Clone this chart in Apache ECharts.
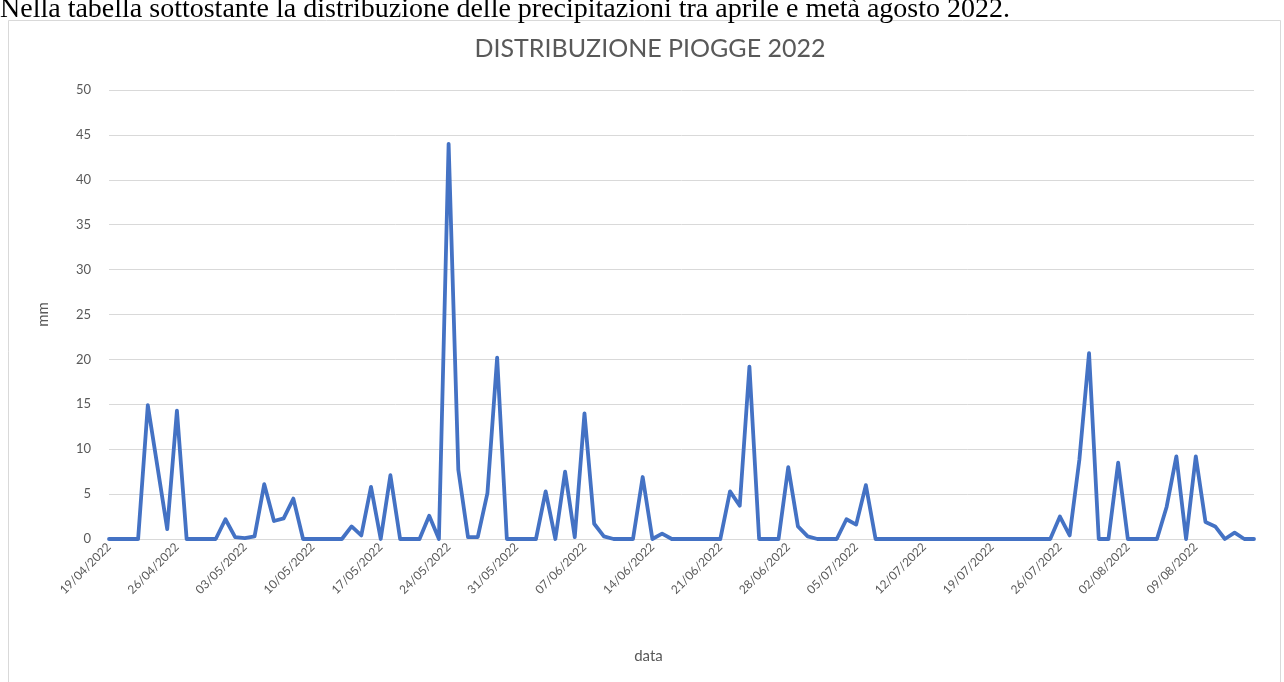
<!DOCTYPE html>
<html>
<head>
<meta charset="utf-8">
<title>Distribuzione piogge 2022</title>
<script src="https://cdn.jsdelivr.net/npm/echarts@6/dist/echarts.min.js"></script>
<style>
  html, body { margin: 0; padding: 0; background: #ffffff; }
  #chart { width: 1284px; height: 682px; }
</style>
</head>
<body>
<div id="chart"></div>
<script>
// Daily rainfall (mm), 19 April – 15 August 2022
const dates = [
  '19/04/2022','20/04/2022','21/04/2022','22/04/2022','23/04/2022','24/04/2022','25/04/2022',
  '26/04/2022','27/04/2022','28/04/2022','29/04/2022','30/04/2022','01/05/2022','02/05/2022',
  '03/05/2022','04/05/2022','05/05/2022','06/05/2022','07/05/2022','08/05/2022','09/05/2022',
  '10/05/2022','11/05/2022','12/05/2022','13/05/2022','14/05/2022','15/05/2022','16/05/2022',
  '17/05/2022','18/05/2022','19/05/2022','20/05/2022','21/05/2022','22/05/2022','23/05/2022',
  '24/05/2022','25/05/2022','26/05/2022','27/05/2022','28/05/2022','29/05/2022','30/05/2022',
  '31/05/2022','01/06/2022','02/06/2022','03/06/2022','04/06/2022','05/06/2022','06/06/2022',
  '07/06/2022','08/06/2022','09/06/2022','10/06/2022','11/06/2022','12/06/2022','13/06/2022',
  '14/06/2022','15/06/2022','16/06/2022','17/06/2022','18/06/2022','19/06/2022','20/06/2022',
  '21/06/2022','22/06/2022','23/06/2022','24/06/2022','25/06/2022','26/06/2022','27/06/2022',
  '28/06/2022','29/06/2022','30/06/2022','01/07/2022','02/07/2022','03/07/2022','04/07/2022',
  '05/07/2022','06/07/2022','07/07/2022','08/07/2022','09/07/2022','10/07/2022','11/07/2022',
  '12/07/2022','13/07/2022','14/07/2022','15/07/2022','16/07/2022','17/07/2022','18/07/2022',
  '19/07/2022','20/07/2022','21/07/2022','22/07/2022','23/07/2022','24/07/2022','25/07/2022',
  '26/07/2022','27/07/2022','28/07/2022','29/07/2022','30/07/2022','31/07/2022','01/08/2022',
  '02/08/2022','03/08/2022','04/08/2022','05/08/2022','06/08/2022','07/08/2022','08/08/2022',
  '09/08/2022','10/08/2022','11/08/2022','12/08/2022','13/08/2022','14/08/2022','15/08/2022'
];

// one value per day, a week per row
const rainMm = [
  0, 0, 0, 0, 14.9, 8.0, 1.1,
  14.3, 0, 0, 0, 0, 2.2, 0.2,
  0.1, 0.3, 6.1, 2.0, 2.3, 4.5, 0,
  0, 0, 0, 0, 1.4, 0.4, 5.8,
  0, 7.1, 0, 0, 0, 2.6, 0,
  44.0, 7.7, 0.2, 0.2, 5.1, 20.2, 0,
  0, 0, 0, 5.3, 0, 7.5, 0.2,
  14.0, 1.7, 0.3, 0, 0, 0, 6.9,
  0, 0.6, 0, 0, 0, 0, 0,
  0, 5.3, 3.7, 19.2, 0, 0, 0,
  8.0, 1.4, 0.3, 0, 0, 0, 2.2,
  1.6, 6.0, 0, 0, 0, 0, 0,
  0, 0, 0, 0, 0, 0, 0,
  0, 0, 0, 0, 0, 0, 0,
  2.5, 0.4, 8.8, 20.7, 0, 0, 8.5,
  0, 0, 0, 0, 3.6, 9.2, 0,
  9.2, 1.9, 1.4, 0, 0.7, 0, 0
];

const yMin = 0;
const yMax = 50;
const yStep = 5;

const chartTitle = 'DISTRIBUZIONE PIOGGE 2022';
const introLine = 'Nella tabella sottostante la distribuzione delle precipitazioni tra aprile e metà agosto 2022.';
const xName = 'data';
const yName = 'mm';

const grey = '#595959';
const gridGrey = '#d9d9d9';
const lineBlue = '#4472C4';
const uiFont = 'Lato, "Open Sans", sans-serif';

const chart = echarts.init(document.getElementById('chart'), null, { renderer: 'canvas' });

chart.setOption({
  animation: false,
  backgroundColor: '#ffffff',
  graphic: [
    {
      // chart frame
      type: 'rect',
      z: -10,
      silent: true,
      shape: { x: 8.5, y: 20.5, width: 1272, height: 700 },
      style: { fill: '#ffffff', stroke: gridGrey, lineWidth: 1 }
    },
    {
      // sentence above the chart, partly cut by the top edge of the page
      type: 'text',
      silent: true,
      style: {
        x: 0,
        y: -4,
        text: introLine,
        fill: '#000000',
        font: '28px "Liberation Serif", "Times New Roman", serif',
        textAlign: 'left'
      }
    }
  ],
  title: {
    text: chartTitle,
    left: 645,
    top: 31,
    textAlign: 'center',
    textStyle: {
      color: grey,
      fontSize: 25,
      fontWeight: 'normal',
      fontFamily: uiFont
    }
  },
  grid: {
    left: 109,
    right: 30,
    top: 90,
    bottom: 143,
    containLabel: false
  },
  xAxis: {
    type: 'category',
    data: dates,
    boundaryGap: false,
    name: xName,
    nameLocation: 'middle',
    nameGap: 110,
    nameTextStyle: {
      color: grey,
      fontSize: 15,
      fontFamily: uiFont,
      padding: [0, 66, 0, 0]
    },
    axisLine: { show: true, lineStyle: { color: gridGrey, width: 1 } },
    axisTick: { show: false },
    axisLabel: {
      interval: 6,
      rotate: 45,
      margin: 6,
      color: grey,
      fontSize: 12,
      fontFamily: uiFont
    },
    splitLine: { show: false }
  },
  yAxis: {
    type: 'value',
    min: yMin,
    max: yMax,
    interval: yStep,
    name: yName,
    nameLocation: 'middle',
    nameGap: 58,
    nameRotate: 90,
    nameTextStyle: { color: grey, fontSize: 15, fontFamily: uiFont },
    axisLine: { show: false },
    axisTick: { show: false },
    axisLabel: { color: grey, fontSize: 13, margin: 18, fontFamily: uiFont },
    splitLine: { lineStyle: { color: gridGrey, width: 1 } }
  },
  series: [
    {
      type: 'line',
      name: 'Pioggia',
      data: rainMm,
      symbol: 'none',
      smooth: false,
      lineStyle: { color: lineBlue, width: 3.8, cap: 'round', join: 'round' }
    }
  ]
});
</script>
</body>
</html>
